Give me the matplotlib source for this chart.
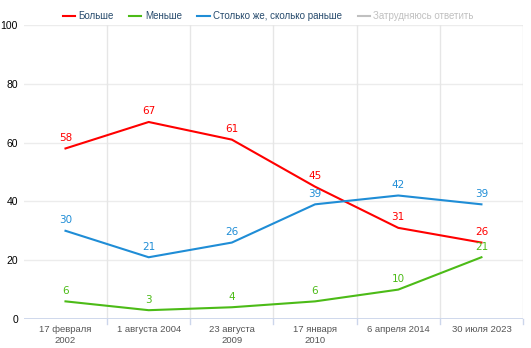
import matplotlib
matplotlib.use("Agg")
import matplotlib.pyplot as plt
from matplotlib.lines import Line2D

categories = ["17 февраля\n2002", "1 августа 2004", "23 августа\n2009",
              "17 января\n2010", "6 апреля 2014", "30 июля 2023"]
more = [58, 67, 61, 45, 31, 26]
less = [6, 3, 4, 6, 10, 21]
same = [30, 21, 26, 39, 42, 39]
series_names = ["Больше", "Меньше", "Столько же, сколько раньше", "Затрудняюсь ответить"]
colors = ["#ff0000", "#4cbb17", "#1f8dd6", "#c0c0c0"]
y_ticks = [0, 20, 40, 60, 80, 100]

plt.rcParams['font.family'] = ['Liberation Sans', 'DejaVu Sans']

fig = plt.figure(figsize=(5.31, 3.48), dpi=100)
ax = fig.add_axes([0.045, 0.0833, 0.94, 0.845])

x = list(range(len(categories)))
for vals, c in zip([more, less, same], colors[:3]):
    ax.plot(x, vals, color=c, lw=1.5, solid_joinstyle='round', zorder=3)
    for xi, v in zip(x, vals):
        ax.annotate(str(v), (xi, v), xytext=(0, 4), textcoords='offset points',
                    ha='center', va='bottom', color=c, fontsize=7.5,
                    family='DejaVu Sans', zorder=4)

ax.set_xlim(-0.5, len(categories) - 0.5)
ax.set_ylim(0, 100)
ax.set_yticks(y_ticks)
ax.set_yticklabels([str(t) for t in y_ticks], fontsize=7.5, color='#000000')
ax.set_xticks(x)
ax.set_xticklabels(categories, fontsize=6.8, color='#555555', linespacing=1.3)
ax.tick_params(axis='x', length=0, pad=4)
ax.tick_params(axis='y', length=0, pad=4.3)

for t in y_ticks[1:]:
    ax.axhline(t, color='#ececec', lw=1, zorder=1)
for b in range(len(categories)):
    ax.axvline(b + 0.5, color='#e6e6e6', lw=1, zorder=1)
    ax.plot([b + 0.5, b + 0.5], [0, -1.8], color='#ccd6eb', lw=1, clip_on=False)
ax.axhline(0, color='#ccd6eb', lw=1.3, zorder=2)

for s in ax.spines.values():
    s.set_visible(False)

handles = [Line2D([0], [0], color=c, lw=1.5) for c in colors]
leg = fig.legend(handles, series_names, loc='center', bbox_to_anchor=(0.505, 0.954),
                 ncol=4, frameon=False, fontsize=7, handlelength=1.25,
                 handletextpad=0.35, columnspacing=1.6)
for i, t in enumerate(leg.get_texts()):
    t.set_color('#c0c0c0' if i == 3 else '#274b6d')

fig.savefig("out.png", dpi=100)
